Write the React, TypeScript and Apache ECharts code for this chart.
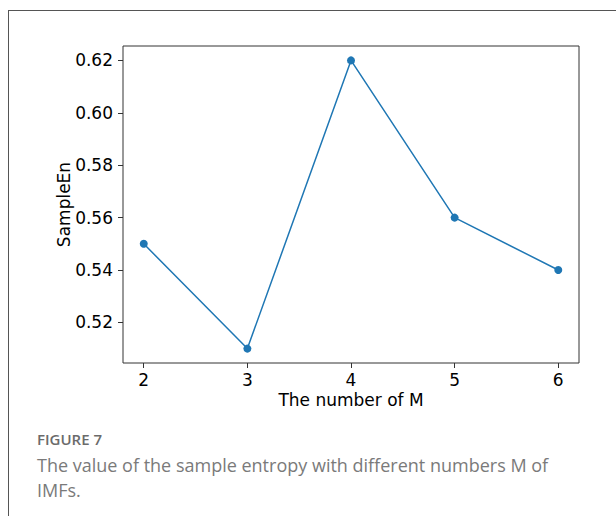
import React, { useEffect, useRef } from "react";
import * as echarts from "echarts";

const mValues = [2, 3, 4, 5, 6];
const sampleEn = [0.55, 0.51, 0.62, 0.56, 0.54];
const xTicks = [2, 3, 4, 5, 6];
const yTicks = [0.52, 0.54, 0.56, 0.58, 0.6, 0.62];
const xTitle = "The number of M";
const yTitle = "SampleEn";
const figLabel = "FIGURE 7";
const captionLines = [
  "The value of the sample entropy with different numbers M of",
  "IMFs.",
];

export default function App() {
  const ref = useRef<HTMLDivElement>(null);
  useEffect(() => {
    if (!ref.current) return;
    const chart = echarts.init(ref.current, null, { renderer: "svg" });
    const tickFont = { fontFamily: "DejaVu Sans", fontSize: 17, color: "#000" };
    chart.setOption({
      animation: false,
      backgroundColor: "#fff",
      grid: {
        left: 123,
        right: 37,
        top: 46,
        bottom: 153,
        show: true,
        borderColor: "#333",
        borderWidth: 1,
        backgroundColor: "transparent",
      },
      xAxis: {
        type: "value",
        min: 1.8,
        max: 6.2,
        name: xTitle,
        nameLocation: "middle",
        nameGap: 28,
        nameMoveOverlap: false,
        nameTextStyle: { ...tickFont },
        axisLine: { show: false },
        splitLine: { show: false },
        axisTick: {
          show: true,
          length: 5,
          customValues: xTicks,
          lineStyle: { color: "#333" },
        },
        axisLabel: {
          ...tickFont,
          margin: 8,
          customValues: xTicks,
          formatter: (v: number) => String(v),
        },
      },
      yAxis: {
        type: "value",
        min: 0.5045,
        max: 0.6255,
        name: yTitle,
        nameLocation: "middle",
        nameGap: 51,
        nameMoveOverlap: false,
        nameRotate: 90,
        nameTextStyle: { ...tickFont },
        axisLine: { show: false },
        splitLine: { show: false },
        axisTick: {
          show: true,
          length: 5,
          customValues: yTicks,
          lineStyle: { color: "#333" },
        },
        axisLabel: {
          ...tickFont,
          margin: 10,
          customValues: yTicks,
          formatter: (v: number) => v.toFixed(2),
        },
      },
      series: [
        {
          type: "line",
          data: mValues.map((m, i) => [m, sampleEn[i]]),
          symbol: "circle",
          symbolSize: 8,
          lineStyle: { color: "#1f77b4", width: 1.5 },
          itemStyle: { color: "#1f77b4" },
        },
      ],
      graphic: [
        {
          type: "line",
          shape: { x1: 8, y1: 10.5, x2: 616, y2: 10.5 },
          style: { stroke: "#555", lineWidth: 1 },
        },
        {
          type: "line",
          shape: { x1: 8.5, y1: 10, x2: 8.5, y2: 516 },
          style: { stroke: "#555", lineWidth: 1 },
        },
        {
          type: "text",
          left: 37,
          top: 431,
          style: {
            text: figLabel,
            fontFamily: "Open Sans",
            fontSize: 15,
            fontWeight: 600,
            fill: "#6b6b6b",
          },
        },
        {
          type: "text",
          left: 37,
          top: 452,
          style: {
            text: captionLines.join("\n"),
            fontFamily: "Open Sans",
            fontSize: 18,
            lineHeight: 25,
            fill: "#7a7a7a",
          },
        },
      ],
    });
    return () => chart.dispose();
  }, []);
  return (
    <div
      ref={ref}
      style={{ position: "fixed", left: 0, top: 0, width: 616, height: 516 }}
    />
  );
}
